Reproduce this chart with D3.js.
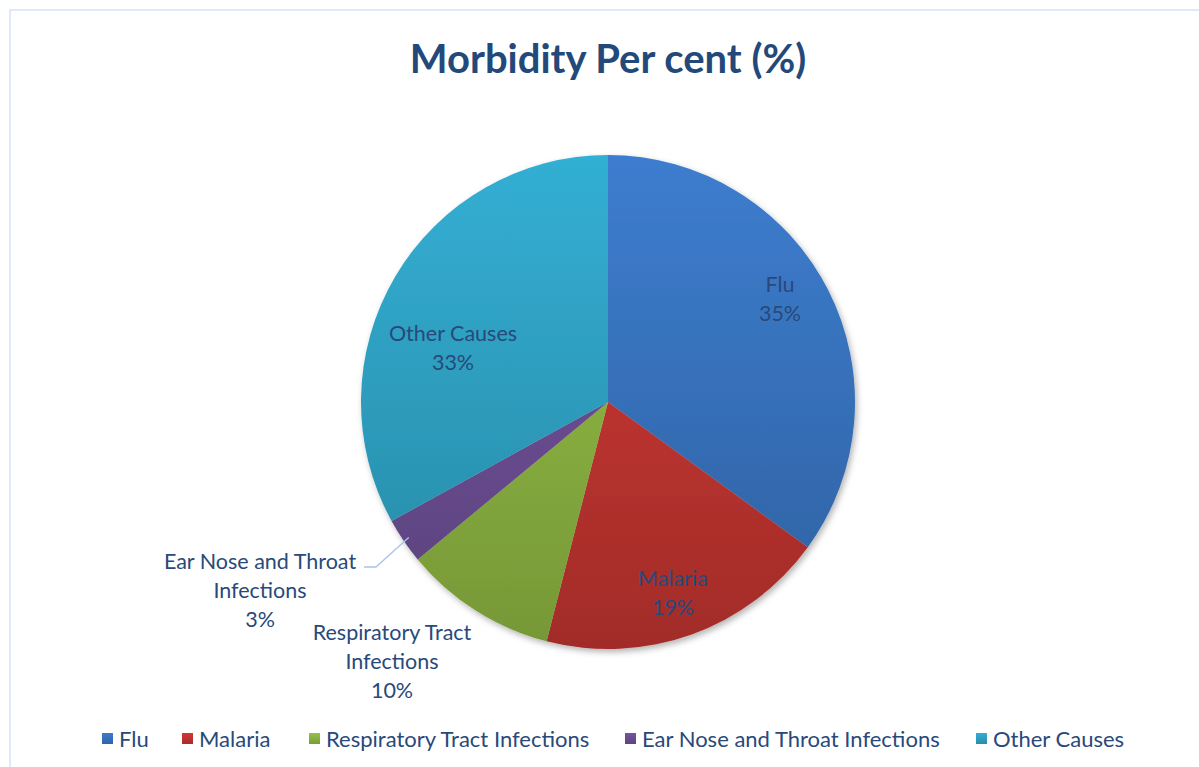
<!DOCTYPE html>
<html>
<head>
<meta charset="utf-8">
<script src="https://cdn.jsdelivr.net/npm/d3@7"></script>
<style>
  body { margin: 0; background: #fff; }
  text { font-family: Lato, "Noto Sans", sans-serif; }
</style>
</head>
<body>
<div id="chart"></div>
<script>
// data
var categories = ["Flu", "Malaria", "Respiratory Tract Infections", "Ear Nose and Throat Infections", "Other Causes"];
var values = [35, 19, 10, 3, 33];
var colors = ["#3a78c6", "#c93633", "#92bb44", "#71519a", "#31a8cb"];
var labelLines = [["Flu", "35%"], ["Malaria", "19%"], ["Respiratory Tract", "Infections", "10%"], ["Ear Nose and Throat", "Infections", "3%"], ["Other Causes", "33%"]];

var width = 1199, height = 767;
var cx = 608, cy = 402, radius = 247;

var svg = d3.select("#chart")
  .append("svg")
  .attr("width", width)
  .attr("height", height);

// chart frame
svg.append("rect")
  .attr("x", 10).attr("y", 10)
  .attr("width", width + 20).attr("height", height + 20)
  .attr("fill", "none")
  .attr("stroke", "#d5e3f4")
  .attr("stroke-width", 1.5);

svg.append("text")
  .attr("x", 608).attr("y", 73)
  .attr("text-anchor", "middle")
  .attr("font-size", 40)
  .attr("font-weight", "bold")
  .attr("fill", "#22497a")
  .text("Morbidity Per cent (%)");

var defs = svg.append("defs");
var shadow = defs.append("filter").attr("id", "shadow")
  .attr("x", "-10%").attr("y", "-10%").attr("width", "120%").attr("height", "120%");
shadow.append("feDropShadow")
  .attr("dx", 2).attr("dy", 3).attr("stdDeviation", 3)
  .attr("flood-color", "#000").attr("flood-opacity", 0.3);

// vertical gradients, lighter on top: one across the whole pie, one per legend box
colors.forEach(function(c, i) {
  var g = defs.append("linearGradient")
    .attr("id", "grad" + i)
    .attr("gradientUnits", "userSpaceOnUse")
    .attr("x1", 0).attr("y1", -radius)
    .attr("x2", 0).attr("y2", radius);
  g.append("stop").attr("offset", "0%").attr("stop-color", d3.color(c).brighter(0.12));
  g.append("stop").attr("offset", "100%").attr("stop-color", d3.color(c).darker(0.6));

  var lg = defs.append("linearGradient")
    .attr("id", "lgrad" + i)
    .attr("x1", 0).attr("y1", 0).attr("x2", 0).attr("y2", 1);
  lg.append("stop").attr("offset", "0%").attr("stop-color", d3.color(c).brighter(0.1));
  lg.append("stop").attr("offset", "100%").attr("stop-color", d3.color(c).darker(0.5));
});

var pie = d3.pie().sort(null).value(function(d) { return d; });
var arcs = pie(values);
var arc = d3.arc().innerRadius(0).outerRadius(radius);

var g = svg.append("g").attr("transform", "translate(" + cx + "," + cy + ")");

g.append("g").attr("filter", "url(#shadow)")
  .selectAll("path")
  .data(arcs)
  .enter()
  .append("path")
    .attr("d", arc)
    .attr("fill", function(d, i) { return "url(#grad" + i + ")"; });

// label centres relative to the pie centre
var labelAt = [[172, -104], [65, 190], [-216, 259], [-348, 188], [-155, -55]];
var lineH = 29;

arcs.forEach(function(d, i) {
  var p = labelAt[i];
  var lines = labelLines[i];
  var t = g.append("text")
    .attr("text-anchor", "middle")
    .attr("font-size", 21.5)
    .attr("fill", "#28497a");
  lines.forEach(function(s, j) {
    t.append("tspan")
      .attr("x", p[0])
      .attr("y", p[1] - (lines.length - 1) * lineH / 2 + j * lineH + 8)
      .text(s);
  });
});

// leader line for Ear Nose and Throat
var ent = arcs[3];
var edge = d3.arc().innerRadius(radius - 6).outerRadius(radius - 6).centroid(ent);
g.append("polyline")
  .attr("points", [edge, [-232, 165], [-244, 165]].map(function(p) { return p.join(","); }).join(" "))
  .attr("fill", "none")
  .attr("stroke", "#a9c4e8")
  .attr("stroke-width", 1.3);

// legend
var legendX = [102, 182, 309, 625, 976];
var legend = svg.append("g");
categories.forEach(function(c, i) {
  legend.append("rect")
    .attr("x", legendX[i]).attr("y", 733)
    .attr("width", 11).attr("height", 11)
    .attr("fill", "url(#lgrad" + i + ")");
  legend.append("text")
    .attr("x", legendX[i] + 17).attr("y", 747)
    .attr("font-size", 22)
    .attr("fill", "#28497a")
    .text(c);
});
</script>
</body>
</html>
